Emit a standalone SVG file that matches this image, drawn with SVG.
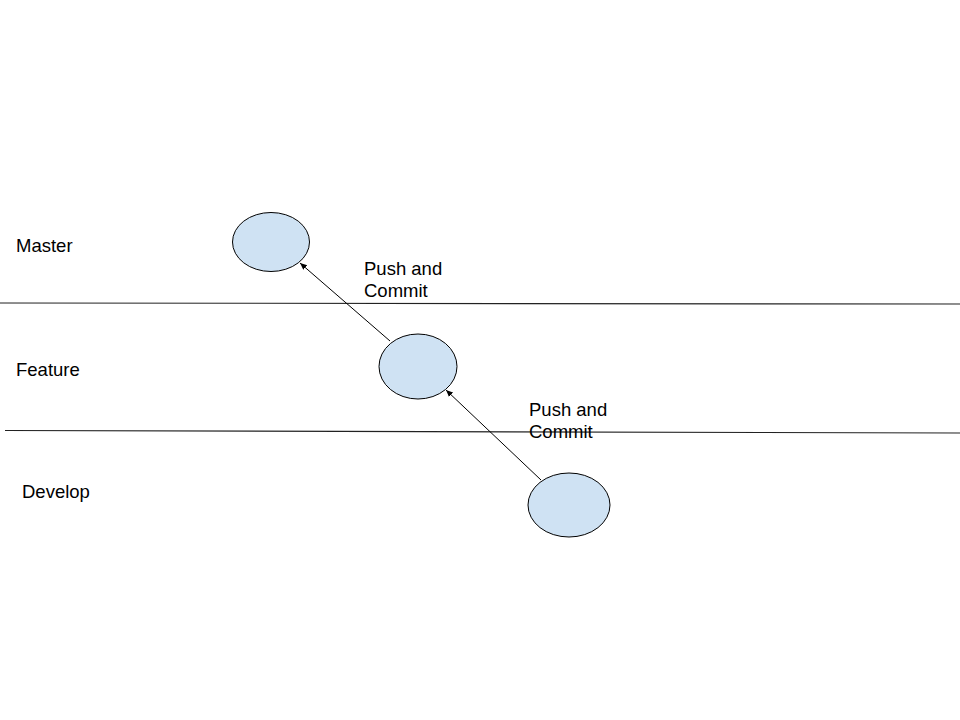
<svg xmlns="http://www.w3.org/2000/svg" width="960" height="720" viewBox="0 0 960 720">
<style>
.node ellipse{fill:#cfe2f3;stroke:#000;stroke-width:1}
.lane{stroke:#222;stroke-width:1.2}
.conn{stroke:#000;stroke-width:1;fill:none;marker-end:url(#ah)}
text{font-family:"Liberation Sans",Arial,sans-serif;font-size:18.5px;fill:#000}
</style>
<defs>
<marker id="ah" markerWidth="8" markerHeight="8" refX="7" refY="4" orient="auto" markerUnits="userSpaceOnUse">
<path d="M0,1 L7,4 L0,7 Z" fill="#000"/>
</marker>
</defs>
<rect width="960" height="720" fill="#fff"/>
<g id="lanes">
<line class="lane" x1="0" y1="303" x2="960" y2="304"/>
<line class="lane" x1="5" y1="430.5" x2="960" y2="433"/>
</g>
<g id="lane-labels">
<text x="16" y="252">Master</text>
<text x="16" y="376">Feature</text>
<text x="22" y="498">Develop</text>
</g>
<g id="master-node" class="node"><ellipse cx="271" cy="242" rx="38.5" ry="29.5"/></g>
<g id="feature-node" class="node"><ellipse cx="418" cy="366.5" rx="39" ry="32.5"/></g>
<g id="develop-node" class="node"><ellipse cx="569" cy="505" rx="41" ry="32"/></g>
<g id="connectors">
<line class="conn" x1="390" y1="341" x2="300" y2="263"/>
<line class="conn" x1="541" y1="480" x2="446" y2="390"/>
</g>
<g id="connector-labels">
<text x="364" y="275">Push and</text>
<text x="364" y="297">Commit</text>
<text x="529" y="416">Push and</text>
<text x="529" y="438">Commit</text>
</g>
</svg>
